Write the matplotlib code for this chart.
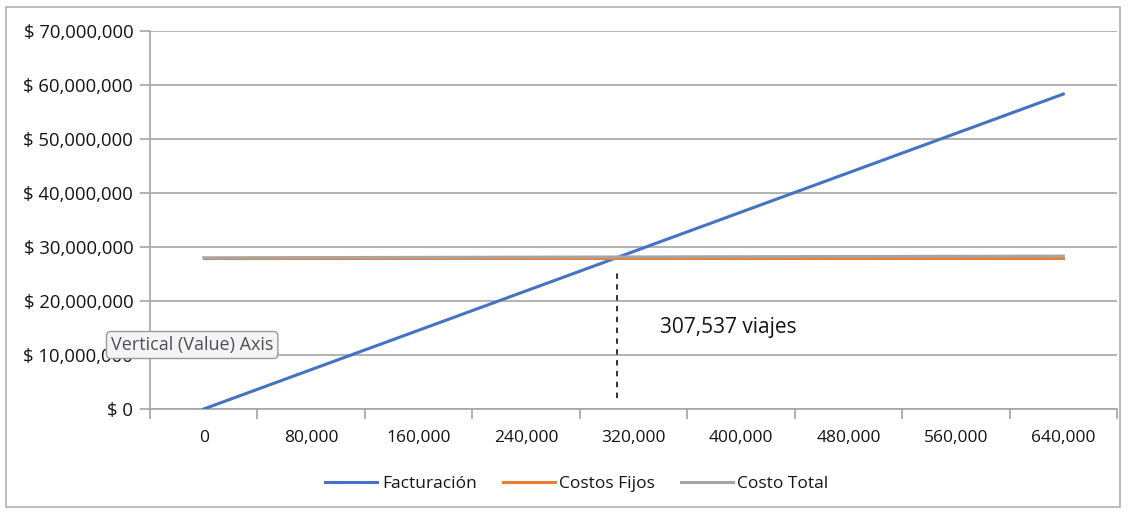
import matplotlib
matplotlib.use("Agg")
import matplotlib.pyplot as plt
from matplotlib.ticker import FuncFormatter, FixedLocator
from matplotlib.patches import Rectangle

# Break-even data (trips vs. pesos)
viajes = [0, 80000, 160000, 240000, 320000, 400000, 480000, 560000, 640000]
facturacion = [0, 7290000, 14580000, 21870000, 29160000, 36450000, 43740000, 51030000, 58320000]
costos_fijos = [28000000, 28000000, 28000000, 28000000, 28000000, 28000000, 28000000, 28000000, 28000000]
costo_total = [28000000, 28040000, 28080000, 28120000, 28160000, 28200000, 28240000, 28280000, 28320000]
punto_equilibrio = 307537
guia_equilibrio = [2000000, 25700000]
y_ticks = [0, 10000000, 20000000, 30000000, 40000000, 50000000, 60000000, 70000000]

plt.rcParams['font.family'] = ['Open Sans', 'DejaVu Sans']

fig = plt.figure(figsize=(11.32, 5.12), dpi=100)
W, H = 1132, 512
ax = fig.add_axes([150 / W, 1 - 409 / H, (1117 - 150) / W, (409 - 31) / H])

AXC = "#a6a6a6"
TXT = "#141414"
ax.plot(viajes, facturacion, color="#4472C4", lw=2.2, label="Facturación", zorder=3)
ax.plot(viajes, costos_fijos, color="#ED7D31", lw=2.2, label="Costos Fijos", zorder=3)
ax.plot(viajes, costo_total, color="#A5A5A5", lw=2.2, label="Costo Total", zorder=4)

ax.plot([punto_equilibrio, punto_equilibrio], guia_equilibrio, color="#222222",
        lw=1.3, ls=(0, (3, 3)), zorder=5)
ax.text(punto_equilibrio + 32000, 15000000, f"{punto_equilibrio:,} viajes",
        fontsize=15, color=TXT, va="center", ha="left")

# category-style x axis: ticks at boundaries, labels at centres
step = viajes[1] - viajes[0]
ax.set_xlim(viajes[0] - step / 2, viajes[-1] + step / 2)
ax.xaxis.set_major_locator(FixedLocator([v - step / 2 for v in viajes] + [viajes[-1] + step / 2]))
ax.xaxis.set_major_formatter(FuncFormatter(lambda v, p: ""))
ax.xaxis.set_minor_locator(FixedLocator(viajes))
ax.xaxis.set_minor_formatter(FuncFormatter(lambda v, p: f"{int(round(v)):,}"))
ax.tick_params(axis="x", which="major", length=7, width=1.2, color=AXC, direction="out")
ax.tick_params(axis="x", which="minor", length=0, pad=15, labelsize=12.5, labelcolor=TXT)

ax.set_ylim(0, 70000000)
ax.set_yticks(y_ticks)
ax.yaxis.set_major_formatter(FuncFormatter(lambda v, p: f"$ {int(v):,}"))
ax.tick_params(axis="y", length=7, width=1.2, color=AXC, pad=5, labelsize=13.3, labelcolor=TXT)

ax.grid(axis="y", color=AXC, lw=1.2, zorder=0)
for s in ("top", "right"):
    ax.spines[s].set_visible(False)
for s in ("left", "bottom"):
    ax.spines[s].set_color(AXC)
    ax.spines[s].set_linewidth(1.2)

leg = fig.legend(loc="center", bbox_to_anchor=(577 / W, 1 - 484 / H), ncol=3, frameon=False,
                 fontsize=12.5, handlelength=3.0, handletextpad=0.25, columnspacing=1.5)
for t in leg.get_texts():
    t.set_color(TXT)

# chart border
fig.add_artist(Rectangle((6 / W, 1 - 507 / H), (1120 - 6) / W, (507 - 7) / H,
                         transform=fig.transFigure, fill=False, edgecolor="#b0b0b0", lw=1.2))

# hover tooltip on the value axis
fig.text(111 / W, 1 - 345 / H, "Vertical (Value) Axis", fontsize=13, color="#505050",
         va="center", ha="left", zorder=10,
         bbox=dict(boxstyle="round,pad=0.25,rounding_size=0.25", facecolor="#f4f4f6",
                   edgecolor="#9a9a9a", lw=1.0))

fig.savefig("out.png", dpi=100)
